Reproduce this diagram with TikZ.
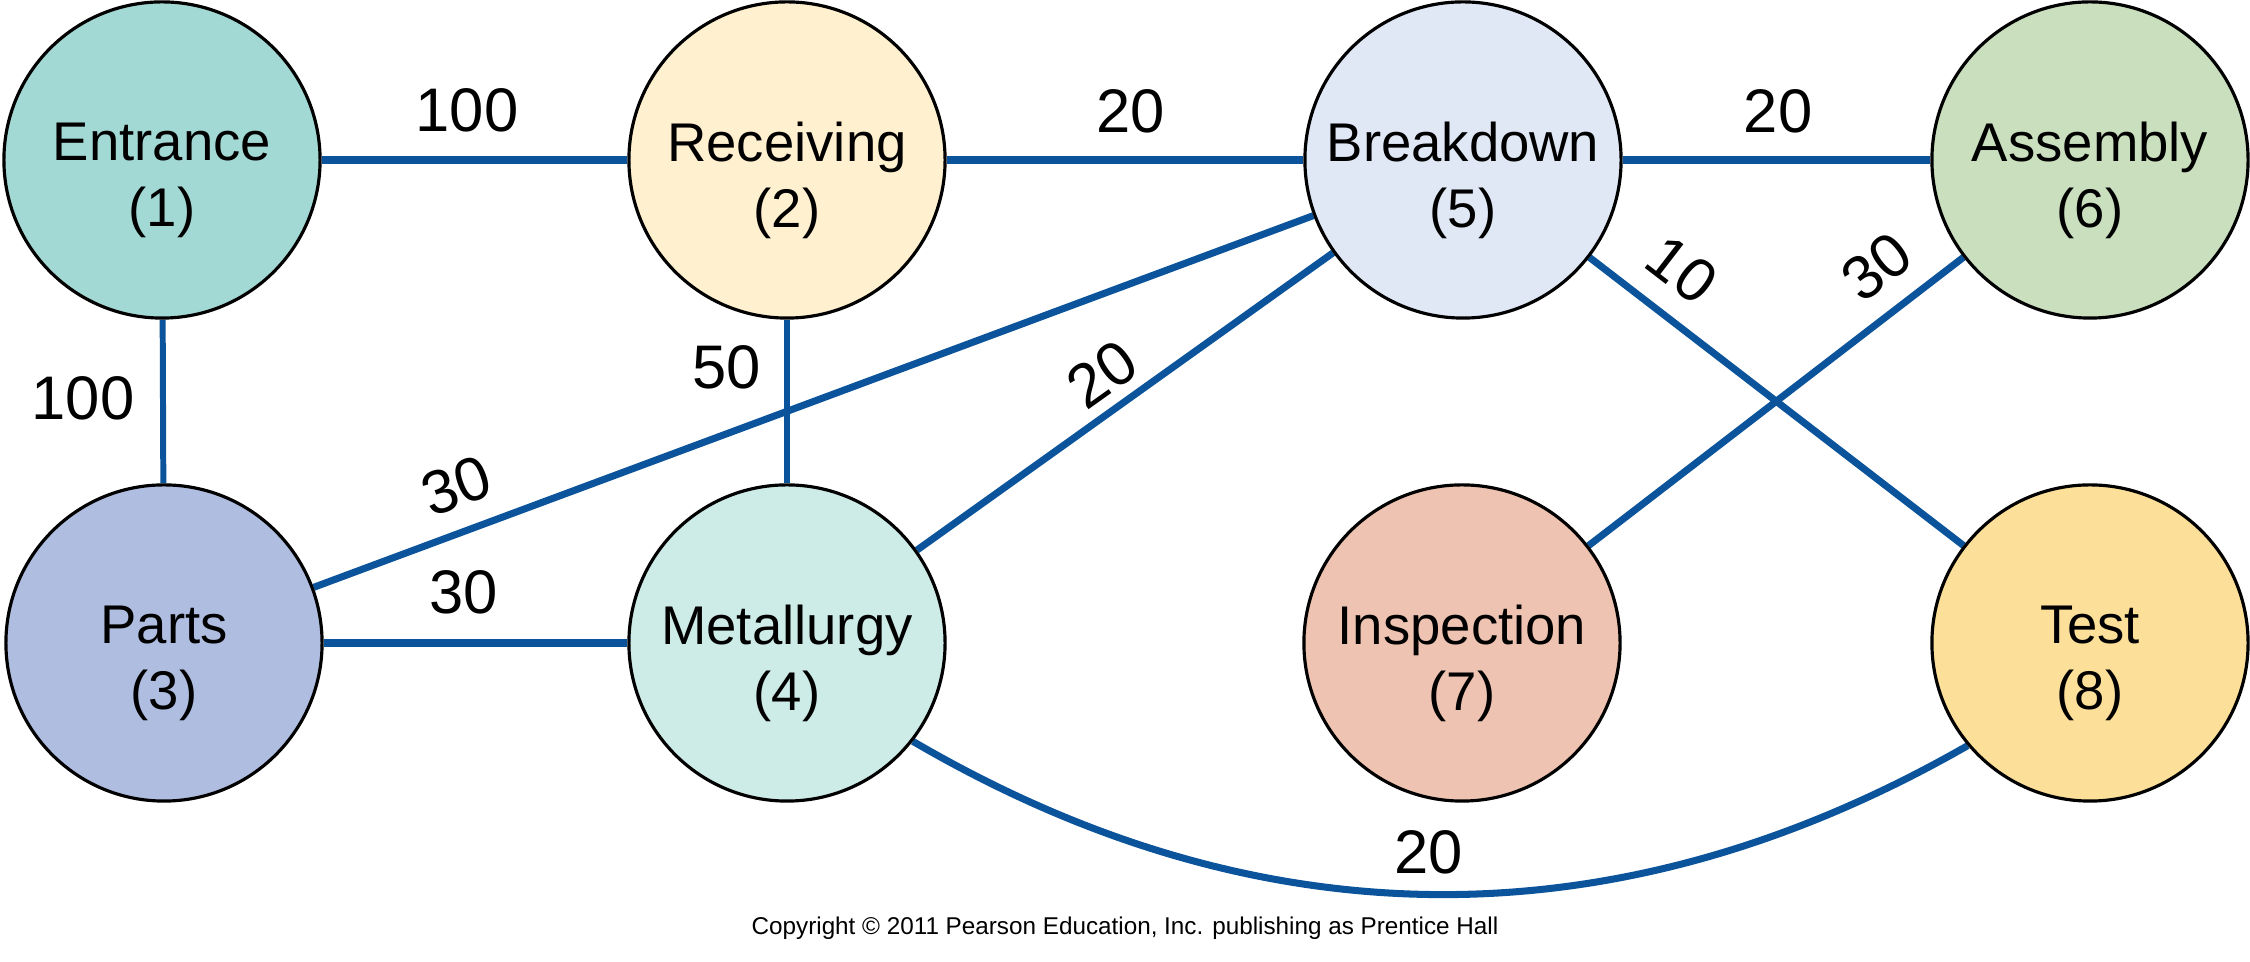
\documentclass[tikz,border=0pt]{standalone}
\usepackage{fontspec}
\setmainfont{Liberation Sans}
\definecolor{edgeblue}{HTML}{0B549B}
\definecolor{cone}{HTML}{A3D9D5}
\definecolor{ctwo}{HTML}{FFF0CF}
\definecolor{cthree}{HTML}{AFBDE0}
\definecolor{cfour}{HTML}{CDEBE7}
\definecolor{cfive}{HTML}{E0E8F6}
\definecolor{csix}{HTML}{C9DFBE}
\definecolor{cseven}{HTML}{EFC3B1}
\definecolor{ceight}{HTML}{FCDF98}
\pgfdeclarelayer{bg}
\pgfsetlayers{bg,main}
\begin{document}
\begin{tikzpicture}[x=0.01cm,y=-0.01cm,
  station/.style={circle,draw=black,line width=0.9pt,minimum size=3.16cm,inner sep=0pt},
  stext/.style={font=\fontsize{15.5}{18.8}\selectfont,align=center,inner sep=0pt},
  edge/.style={draw=edgeblue,line width=2.0pt},
  hedge/.style={draw=edgeblue,line width=2.2pt},
  vedge/.style={draw=edgeblue,line width=1.7pt},
  wlabel/.style={font=\fontsize{17.5}{21}\selectfont,inner sep=0pt},
  copy/.style={font=\fontsize{6.9}{8}\selectfont,inner sep=0pt,anchor=base}]
\useasboundingbox (0,0) rectangle (2250,962);
% stations
\node[station,fill=cone]   (n1) at (162,160) {};
\node[station,fill=ctwo]   (n2) at (787,160) {};
\node[station,fill=cfive]  (n5) at (1463,160) {};
\node[station,fill=csix]   (n6) at (2090,160) {};
\node[station,fill=cthree] (n3) at (164,643) {};
\node[station,fill=cfour]  (n4) at (787,643) {};
\node[station,fill=cseven] (n7) at (1462,643) {};
\node[station,fill=ceight] (n8) at (2090,643) {};
% station texts
\node[stext] (t1) at (162,180) {Entrance\\(1)};
\node[stext] (t2) at (787,180) {Receiving\\(2)};
\node[stext] (t5) at (1463,180) {Breakdown\\(5)};
\node[stext] (t6) at (2090,180) {Assembly\\(6)};
\node[stext] (t3) at (164,663) {Parts\\(3)};
\node[stext] (t4) at (787,663) {Metallurgy\\(4)};
\node[stext] (t7) at (1462,663) {Inspection\\(7)};
\node[stext] (t8) at (2090,663) {Test\\(8)};
% connectors
\begin{pgfonlayer}{bg}
\draw[hedge] (n1) -- (n2);
\draw[hedge] (n2) -- (n5);
\draw[hedge] (n5) -- (n6);
\draw[hedge] (n3) -- (n4);
\draw[vedge] (n1) -- (n3);
\draw[vedge] (n2) -- (n4);
\draw[edge] (n3) -- (n5);
\draw[edge] (n4) -- (n5);
\draw[edge] (n5) -- (n8);
\draw[edge] (n6) -- (n7);
\draw[edge] (n4.-38) .. controls (1261,945) and (1620,945) .. (n8.-140);
\end{pgfonlayer}
% weights
\node[wlabel] (w12) at (467,110) {100};
\node[wlabel] (w25) at (1131,111) {20};
\node[wlabel] (w56) at (1778,111) {20};
\node[wlabel] (w13) at (83,398) {100};
\node[wlabel] (w24) at (727,367) {50};
\node[wlabel,rotate=20] (w35) at (456,486) {30};
\node[wlabel] (w34) at (464,592) {30};
\node[wlabel,rotate=35.5] (w45) at (1102,374) {20};
\node[wlabel,rotate=-37.6] (w58) at (1682,270) {10};
\node[wlabel,rotate=37.6] (w67) at (1877,267) {30};
\node[wlabel] (w48) at (1429,852) {20};
% copyright
\node[copy] (cp) at (1125,935) {Copyright \textcopyright{} 2011 Pearson Education, Inc. publishing as Prentice Hall};
\end{tikzpicture}
\end{document}
